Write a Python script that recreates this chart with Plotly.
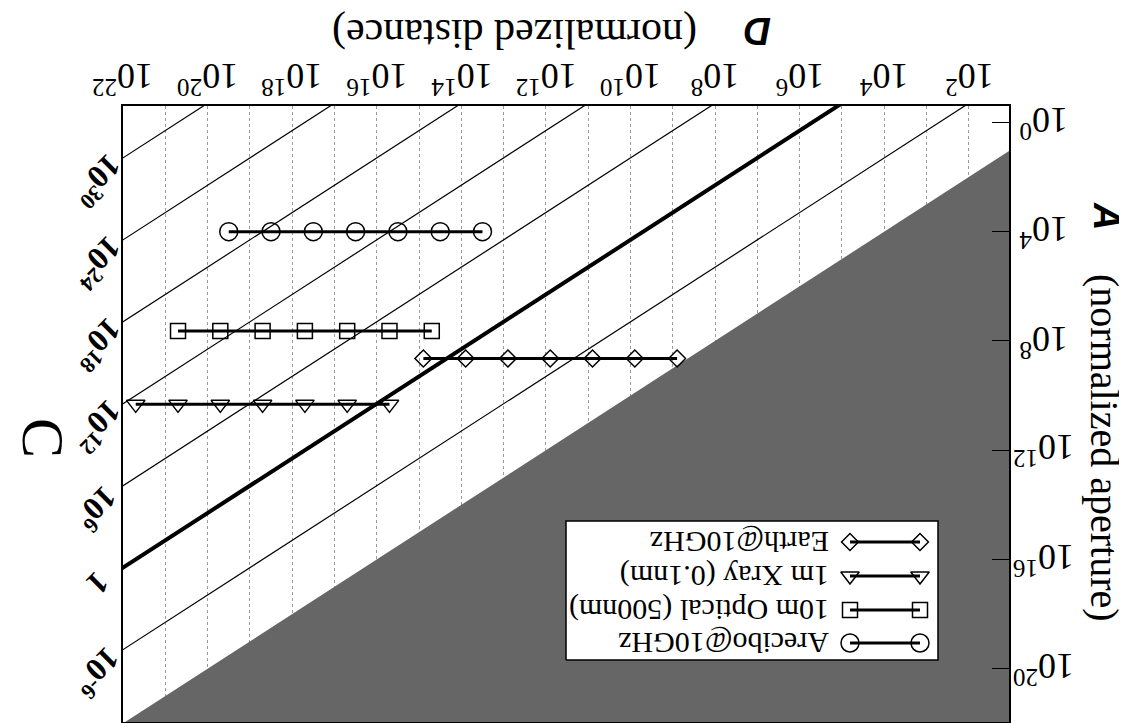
import numpy as np
import plotly.graph_objects as go

# ---------------- data ----------------
series_names = ["Arecibo@10GHz", "10m Optical (500nm)", "1m Xray (0.1nm)", "Earth@10GHz"]
arecibo_D = [3.16e13, 3.16e14, 3.16e15, 3.16e16, 3.16e17, 3.16e18, 3.16e19]
arecibo_A = [1.0e4] * 7
optical_D = [5.0e14, 5.0e15, 5.0e16, 5.0e17, 5.0e18, 5.0e19, 5.0e20]
optical_A = [4.3e7] * 7
xray_D = [5.0e15, 5.0e16, 5.0e17, 5.0e18, 5.0e19, 5.0e20, 5.0e21]
xray_A = [2.1e10] * 7
earth_D = [7.9e8, 7.9e9, 7.9e10, 7.9e11, 7.9e12, 7.9e13, 7.9e14]
earth_A = [4.4e8] * 7

C_values = [1e-6, 1.0, 1e6, 1e12, 1e18, 1e24, 1e30]
C_labels = ["10<sup>-6</sup>", "1", "10<sup>6</sup>", "10<sup>12</sup>",
            "10<sup>18</sup>", "10<sup>24</sup>", "10<sup>30</sup>"]
log_DA_at_C1 = 5.7          # log10(D/A) where C = 1

x_grid_exps = list(range(1, 23))
x_label_exps = [2, 4, 6, 8, 10, 12, 14, 16, 18, 20, 22]
y_tick_exps = [0, 4, 8, 12, 16, 20]

# ---------------- layout constants ----------------
W, H = 1127, 723
L, R, T, B = 115, 126, 98, 9
XLO, XHI = 1.05, 22.0
YLO, YHI = -0.6, 21.95
pw, ph = W - L - R, H - T - B

def px2paper_x(px):
    return (px - L) / pw

def px2paper_y(py):
    return (H - B - py) / ph

SERIF = "Liberation Serif"
SANS = "Liberation Sans"

fig = go.Figure()

# shaded forbidden region A > D
lo, hi = 1.0, 1.0e23
fig.add_trace(go.Scatter(
    x=[lo, hi, lo], y=[lo, hi, hi],
    fill="toself", fillcolor="#666666", mode="lines", line=dict(width=0),
    showlegend=False, hoverinfo="skip"))

# constant-C diagonals
Dline = np.array([lo, hi])
for c in C_values:
    off = (np.log10(c) + 2 * log_DA_at_C1) / 2
    fig.add_trace(go.Scatter(
        x=Dline.tolist(), y=(Dline / 10.0 ** off).tolist(), mode="lines",
        line=dict(color="black", width=4 if c == 1.0 else 1.2),
        showlegend=False, hoverinfo="skip"))

symbols = ["circle-open", "square-open", "triangle-down-open", "diamond-open"]
sizes = [18, 15, 16, 13]
data = [(arecibo_D, arecibo_A), (optical_D, optical_A), (xray_D, xray_A), (earth_D, earth_A)]
for (dx, ay), sym, sz, nm in zip(data, symbols, sizes, series_names):
    fig.add_trace(go.Scatter(
        x=dx, y=ay, mode="lines+markers", name=nm,
        line=dict(color="black", width=3),
        marker=dict(symbol=sym, size=sz, color="black", line=dict(color="black", width=1.5)),
        showlegend=False))

# ---------------- manual (rotated) legend on overlay axes ----------------
lx0, lx1 = px2paper_x(558), px2paper_x(930)
ly0, ly1 = px2paper_y(652), px2paper_y(513)
fig.add_trace(go.Scatter(
    x=[lx0, lx1, lx1, lx0, lx0], y=[ly0, ly0, ly1, ly1, ly0],
    xaxis="x2", yaxis="y2", mode="lines", fill="toself", fillcolor="white",
    line=dict(color="black", width=1.5), showlegend=False, hoverinfo="skip"))
row_py = [635, 602, 568, 534]
sx0, sx1 = px2paper_x(842), px2paper_x(912)
for nm, sym, sz, rp in zip(series_names, symbols, sizes, row_py):
    yy = px2paper_y(rp)
    fig.add_trace(go.Scatter(
        x=[sx0, sx1], y=[yy, yy], xaxis="x2", yaxis="y2", mode="lines+markers",
        line=dict(color="black", width=3),
        marker=dict(symbol=sym, size=sz, color="black", line=dict(color="black", width=1.5)),
        showlegend=False, hoverinfo="skip"))

annotations = []
for nm, rp in zip(series_names, row_py):
    annotations.append(dict(
        text=nm, x=px2paper_x(823), y=px2paper_y(rp), xref="paper", yref="paper",
        xanchor="right", yanchor="middle", textangle=180, showarrow=False,
        font=dict(family=SERIF, size=30, color="black")))

# tick labels (upside down)
for k in x_label_exps:
    annotations.append(dict(
        text="10<sup>%d</sup>" % k, x=k, xref="x", y=px2paper_y(71), yref="paper",
        xanchor="center", yanchor="middle", textangle=180, showarrow=False,
        font=dict(family=SERIF, size=36, color="black")))
for k in y_tick_exps:
    annotations.append(dict(
        text="10<sup>%d</sup>" % k, y=k, yref="y", x=px2paper_x(1036), xref="paper",
        xanchor="center", yanchor="middle", textangle=180, showarrow=False,
        font=dict(family=SERIF, size=36, color="black")))

# C labels next to the diagonals (left side in this orientation)
for c, lab in zip(C_values, C_labels):
    off = (np.log10(c) + 2 * log_DA_at_C1) / 2
    yA = XHI - off
    annotations.append(dict(
        text="<b>" + lab + "</b>", x=px2paper_x(90), xref="paper",
        y=yA, yref="y", yshift=-(16 if c == 1.0 else 23),
        xanchor="center", yanchor="middle", textangle=135, showarrow=False,
        font=dict(family=SERIF, size=32, color="black")))

# axis titles
annotations += [
    dict(text="<b><i>D</i></b>", x=px2paper_x(750), y=px2paper_y(23), xref="paper", yref="paper",
         xanchor="center", yanchor="middle",
         textangle=180, showarrow=False, font=dict(family=SANS, size=38, color="black")),
    dict(text="(normalized distance)", x=px2paper_x(507), y=px2paper_y(26), xref="paper", yref="paper",
         xanchor="center", yanchor="middle",
         textangle=180, showarrow=False, font=dict(family=SERIF, size=42, color="black")),
    dict(text="<b><i>A</i></b>", x=px2paper_x(1099), y=px2paper_y(208), xref="paper", yref="paper",
         xanchor="center", yanchor="middle",
         textangle=90, showarrow=False, font=dict(family=SANS, size=38, color="black")),
    dict(text="(normalized aperture)", x=px2paper_x(1097), y=px2paper_y(440), xref="paper", yref="paper",
         xanchor="center", yanchor="middle",
         textangle=90, showarrow=False, font=dict(family=SERIF, size=40, color="black")),
    dict(text="C", x=px2paper_x(35), y=px2paper_y(430), xref="paper", yref="paper",
         xanchor="center", yanchor="middle",
         textangle=90, showarrow=False, font=dict(family=SERIF, size=60, color="black")),
]

fig.update_layout(
    width=W, height=H, margin=dict(l=L, r=R, t=T, b=B, pad=0),
    paper_bgcolor="white", plot_bgcolor="white", showlegend=False,
    annotations=annotations,
    xaxis=dict(type="log", range=[XHI, XLO], side="top", automargin=False,
               tickvals=[10.0 ** k for k in x_grid_exps], showticklabels=False,
               ticks="", showgrid=True, gridcolor="#9a9a9a", griddash="dot",
               gridwidth=1, zeroline=False, showline=True, linecolor="black", linewidth=1.5,
               mirror=True),
    yaxis=dict(type="log", range=[YHI, YLO], side="right", automargin=False,
               tickvals=[10.0 ** k for k in y_tick_exps], showticklabels=False,
               ticks="inside", ticklen=17, tickwidth=1, tickcolor="black",
               showgrid=False, zeroline=False, showline=True, linecolor="black",
               linewidth=1.5, mirror=True),
    xaxis2=dict(overlaying="x", range=[0, 1], visible=False, showgrid=False, zeroline=False),
    yaxis2=dict(overlaying="y", range=[0, 1], visible=False, showgrid=False, zeroline=False),
)

fig.write_html("out.html")
